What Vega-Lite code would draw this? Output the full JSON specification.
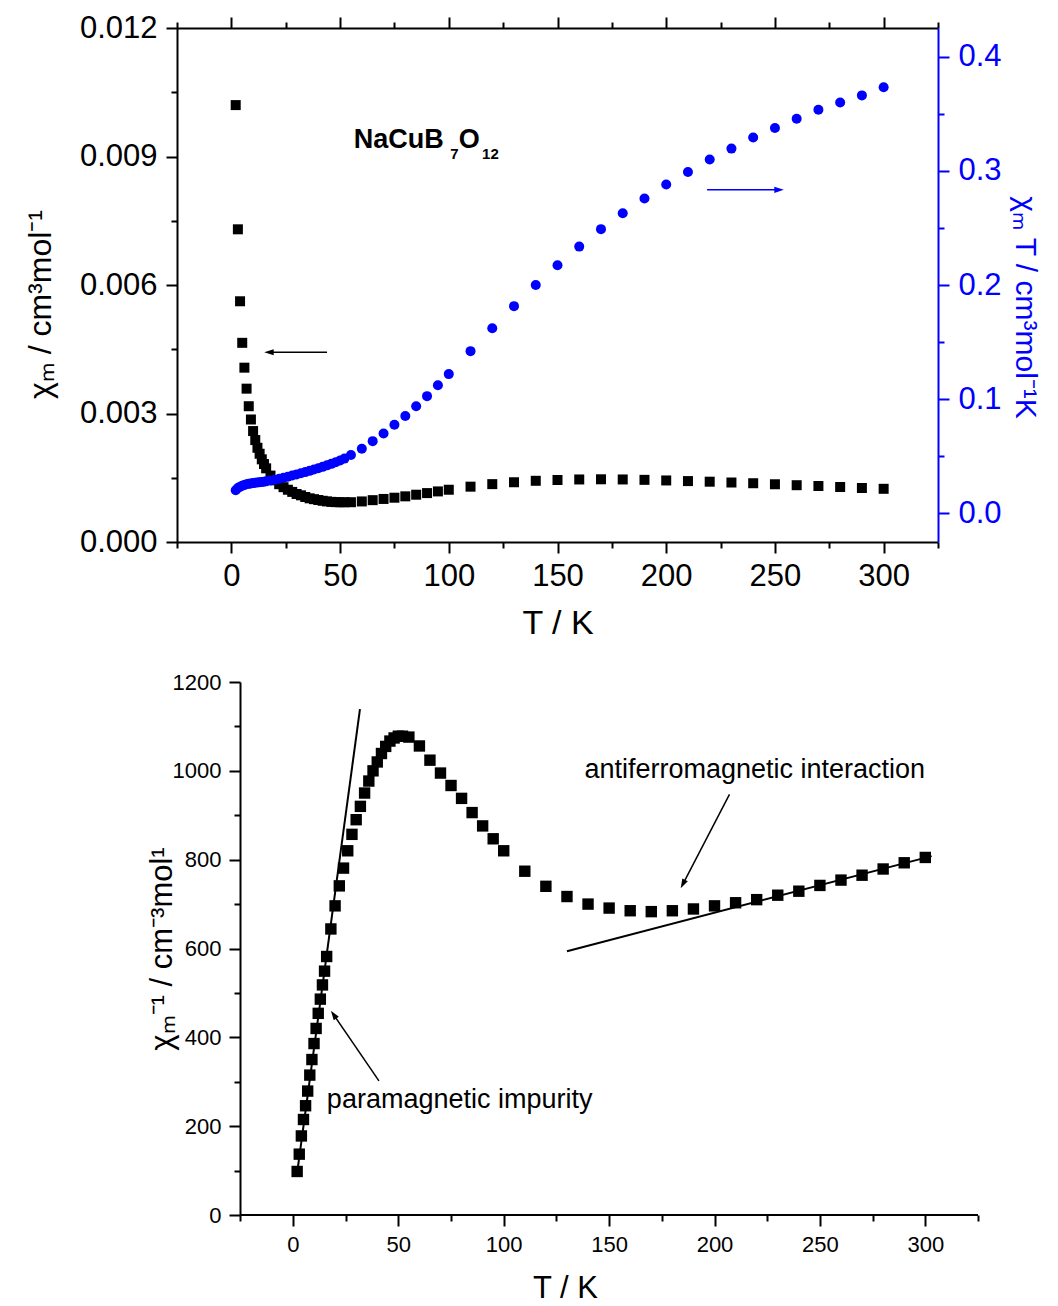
{
  "$schema": "https://vega.github.io/schema/vega-lite/v6.json",
  "background": "white",
  "padding": {"left": 24, "top": 12, "right": 12, "bottom": 0},
  "spacing": 31,
  "config": {
    "view": {"stroke": null},
    "font": "Liberation Sans",
    "axis": {"grid": false, "labelFont": "Liberation Sans", "titleFont": "Liberation Sans", "titleFontWeight": "normal", "labelColor": "black", "titleColor": "black", "domainColor": "black", "tickColor": "black", "domainWidth": 2, "tickWidth": 2, "labelFlush": false, "labelOverlap": false}
  },
  "datasets": {
    "top": [
      {"T": 2, "chi": 0.0102, "chiT": 0.0203},
      {"T": 3, "chi": 0.0073, "chiT": 0.0222},
      {"T": 4, "chi": 0.00562, "chiT": 0.0234},
      {"T": 5, "chi": 0.00465, "chiT": 0.0243},
      {"T": 6, "chi": 0.00407, "chiT": 0.025},
      {"T": 7, "chi": 0.00358, "chiT": 0.0255},
      {"T": 8, "chi": 0.00317, "chiT": 0.0259},
      {"T": 9, "chi": 0.00286, "chiT": 0.0262},
      {"T": 10, "chi": 0.00259, "chiT": 0.0266},
      {"T": 11, "chi": 0.00238, "chiT": 0.0268},
      {"T": 12, "chi": 0.0022, "chiT": 0.0271},
      {"T": 13, "chi": 0.00206, "chiT": 0.0273},
      {"T": 14, "chi": 0.00193, "chiT": 0.0276},
      {"T": 15, "chi": 0.00182, "chiT": 0.0278},
      {"T": 16, "chi": 0.00172, "chiT": 0.0281},
      {"T": 18, "chi": 0.00155, "chiT": 0.0288},
      {"T": 20, "chi": 0.00144, "chiT": 0.0295},
      {"T": 22, "chi": 0.00135, "chiT": 0.0303},
      {"T": 24, "chi": 0.00128, "chiT": 0.0312},
      {"T": 26, "chi": 0.00122, "chiT": 0.0322},
      {"T": 28, "chi": 0.00117, "chiT": 0.0332},
      {"T": 30, "chi": 0.00112, "chiT": 0.0342},
      {"T": 32, "chi": 0.00109, "chiT": 0.0352},
      {"T": 34, "chi": 0.00105, "chiT": 0.0362},
      {"T": 36, "chi": 0.00102, "chiT": 0.0373},
      {"T": 38, "chi": 0.001, "chiT": 0.0384},
      {"T": 40, "chi": 0.00098, "chiT": 0.0396},
      {"T": 42, "chi": 0.000962, "chiT": 0.0408},
      {"T": 44, "chi": 0.000948, "chiT": 0.0421},
      {"T": 46, "chi": 0.000937, "chiT": 0.0434},
      {"T": 48, "chi": 0.000931, "chiT": 0.0448},
      {"T": 50, "chi": 0.000928, "chiT": 0.0463},
      {"T": 52, "chi": 0.000928, "chiT": 0.048},
      {"T": 55, "chi": 0.000929, "chiT": 0.0511},
      {"T": 60, "chi": 0.000947, "chiT": 0.0567},
      {"T": 65, "chi": 0.000977, "chiT": 0.0633},
      {"T": 70, "chi": 0.001005, "chiT": 0.07},
      {"T": 75, "chi": 0.001034, "chiT": 0.0776},
      {"T": 80, "chi": 0.001066, "chiT": 0.0853},
      {"T": 85, "chi": 0.001104, "chiT": 0.0938},
      {"T": 90, "chi": 0.001142, "chiT": 0.1027},
      {"T": 95, "chi": 0.001181, "chiT": 0.1122},
      {"T": 100, "chi": 0.00122, "chiT": 0.122},
      {"T": 110, "chi": 0.001292, "chiT": 0.1421},
      {"T": 120, "chi": 0.001351, "chiT": 0.1622},
      {"T": 130, "chi": 0.001395, "chiT": 0.1815},
      {"T": 140, "chi": 0.001429, "chiT": 0.2},
      {"T": 150, "chi": 0.001447, "chiT": 0.2173},
      {"T": 160, "chi": 0.00146, "chiT": 0.2336},
      {"T": 170, "chi": 0.001464, "chiT": 0.2489},
      {"T": 180, "chi": 0.00146, "chiT": 0.2628},
      {"T": 190, "chi": 0.001451, "chiT": 0.2758},
      {"T": 200, "chi": 0.001437, "chiT": 0.288},
      {"T": 210, "chi": 0.001422, "chiT": 0.299},
      {"T": 220, "chi": 0.001408, "chiT": 0.3099},
      {"T": 230, "chi": 0.001389, "chiT": 0.3194},
      {"T": 240, "chi": 0.001372, "chiT": 0.3292},
      {"T": 250, "chi": 0.001348, "chiT": 0.3375},
      {"T": 260, "chi": 0.001326, "chiT": 0.3455},
      {"T": 270, "chi": 0.001307, "chiT": 0.3535},
      {"T": 280, "chi": 0.001284, "chiT": 0.3598},
      {"T": 290, "chi": 0.001261, "chiT": 0.366},
      {"T": 300, "chi": 0.001242, "chiT": 0.3731}
    ],
    "bottom": [
      {"T": 2, "inv": 98}, {"T": 3, "inv": 137}, {"T": 4, "inv": 178}, {"T": 5, "inv": 215},
      {"T": 6, "inv": 246}, {"T": 7, "inv": 279}, {"T": 8, "inv": 315}, {"T": 9, "inv": 350},
      {"T": 10, "inv": 386}, {"T": 11, "inv": 420}, {"T": 12, "inv": 454}, {"T": 13, "inv": 486},
      {"T": 14, "inv": 518}, {"T": 15, "inv": 549}, {"T": 16, "inv": 582}, {"T": 18, "inv": 644},
      {"T": 20, "inv": 696}, {"T": 22, "inv": 741}, {"T": 24, "inv": 781}, {"T": 26, "inv": 820},
      {"T": 28, "inv": 857}, {"T": 30, "inv": 890}, {"T": 32, "inv": 920}, {"T": 34, "inv": 950},
      {"T": 36, "inv": 977}, {"T": 38, "inv": 1000}, {"T": 40, "inv": 1020}, {"T": 42, "inv": 1039},
      {"T": 44, "inv": 1055}, {"T": 46, "inv": 1067}, {"T": 48, "inv": 1074}, {"T": 50, "inv": 1078},
      {"T": 52, "inv": 1078}, {"T": 55, "inv": 1076}, {"T": 60, "inv": 1056}, {"T": 65, "inv": 1024},
      {"T": 70, "inv": 995}, {"T": 75, "inv": 967}, {"T": 80, "inv": 938}, {"T": 85, "inv": 906},
      {"T": 90, "inv": 876}, {"T": 95, "inv": 847}, {"T": 100, "inv": 820}, {"T": 110, "inv": 774},
      {"T": 120, "inv": 740}, {"T": 130, "inv": 717}, {"T": 140, "inv": 700}, {"T": 150, "inv": 691},
      {"T": 160, "inv": 685}, {"T": 170, "inv": 683}, {"T": 180, "inv": 685}, {"T": 190, "inv": 689},
      {"T": 200, "inv": 696}, {"T": 210, "inv": 703}, {"T": 220, "inv": 710}, {"T": 230, "inv": 720},
      {"T": 240, "inv": 729}, {"T": 250, "inv": 742}, {"T": 260, "inv": 754}, {"T": 270, "inv": 765},
      {"T": 280, "inv": 779}, {"T": 290, "inv": 793}, {"T": 300, "inv": 805}
    ],
    "arrowK": [{"T": 44.0, "chi": 0.00443}, {"T": 17.3, "chi": 0.00443}],
    "headK": [{"T": 17.3, "chi": 0.00443}],
    "arrowB": [{"T": 218.8, "chiT": 0.2833}, {"T": 251.9, "chiT": 0.2833}],
    "headB": [{"T": 251.9, "chiT": 0.2833}],
    "formulaMain": [{"T": 56.3, "chi": 0.0092, "label": "NaCuB"}, {"T": 104.6, "chi": 0.0092, "label": "O"}],
    "formulaSub": [{"T": 100.7, "chi": 0.00893, "label": "7"}, {"T": 115.3, "chi": 0.00893, "label": "12"}],
    "cwfit": [{"T": 2, "inv": 95}, {"T": 31.8, "inv": 1139}],
    "affit": [{"T": 130, "inv": 594}, {"T": 303, "inv": 808}],
    "arrows": [
      {"id": "p", "T": 40.8, "inv": 302}, {"id": "p", "T": 19.3, "inv": 451},
      {"id": "a", "T": 207.1, "inv": 947}, {"id": "a", "T": 185, "inv": 745}
    ],
    "headP": [{"T": 19.3, "inv": 451}],
    "headA": [{"T": 185, "inv": 745}],
    "notes": [
      {"T": 138.3, "inv": 1001, "label": "antiferromagnetic interaction"},
      {"T": 16.1, "inv": 259, "label": "paramagnetic impurity"}
    ]
  },
  "vconcat": [
    {
      "width": 761,
      "height": 514,
      "resolve": {"scale": {"y": "independent"}, "axis": {"x": "independent", "y": "independent"}},
      "layer": [
        {
          "data": {"name": "top"},
          "mark": {"type": "point", "shape": "square", "filled": true, "size": 100, "color": "black", "opacity": 1, "strokeWidth": 0},
          "encoding": {
            "x": {"field": "T", "type": "quantitative", "scale": {"domain": [-25, 325], "nice": false, "zero": false},
              "axis": {"orient": "bottom", "values": [0, 50, 100, 150, 200, 250, 300], "tickSize": 11, "labelFontSize": 31, "labelPadding": 8, "title": "T / K", "titleFontSize": 34, "titlePadding": 15}},
            "y": {"field": "chi", "type": "quantitative", "scale": {"domain": [0, 0.012], "nice": false, "zero": false},
              "axis": {"orient": "left", "values": [0, 0.003, 0.006, 0.009, 0.012], "format": ".3f", "tickSize": 11, "labelFontSize": 31, "labelPadding": 9, "title": "χₘ / cm³mol⁻¹", "titleFontSize": 32, "titlePadding": 22, "titleY": 276}}
          }
        },
        {
          "data": {"name": "top"},
          "mark": {"type": "circle", "size": 100, "color": "#0000ff", "opacity": 1},
          "encoding": {
            "x": {"field": "T", "type": "quantitative",
              "axis": {"orient": "top", "values": [0, 50, 100, 150, 200, 250, 300], "tickSize": 11, "labels": false, "title": null}},
            "y": {"field": "chiT", "type": "quantitative", "scale": {"domain": [-0.025, 0.425], "nice": false, "zero": false},
              "axis": {"orient": "right", "values": [0, 0.1, 0.2, 0.3, 0.4], "format": ".1f", "tickSize": 11, "labelFontSize": 31, "labelPadding": 9, "labelColor": "#0000ff", "tickColor": "#0000ff", "domainColor": "#0000ff", "title": "χₘ T / cm³mol⁻¹K", "titleColor": "#0000ff", "titleFontSize": 30, "titlePadding": 8, "titleY": 279}}
          }
        },
        {
          "data": {"name": "arrowK"},
          "mark": {"type": "line", "color": "black", "strokeWidth": 1.5},
          "encoding": {
            "x": {"field": "T", "type": "quantitative",
              "axis": {"orient": "bottom", "values": [-25, 25, 75, 125, 175, 225, 275, 325], "tickSize": 6, "labels": false, "domain": false, "title": null}},
            "y": {"field": "chi", "type": "quantitative", "scale": {"domain": [0, 0.012], "nice": false, "zero": false},
              "axis": {"orient": "left", "values": [0.0015, 0.0045, 0.0075, 0.0105], "tickSize": 6, "labels": false, "domain": false, "title": null}}
          }
        },
        {
          "data": {"name": "arrowB"},
          "mark": {"type": "line", "color": "#0000ff", "strokeWidth": 1.5},
          "encoding": {
            "x": {"field": "T", "type": "quantitative",
              "axis": {"orient": "top", "values": [-25, 25, 75, 125, 175, 225, 275, 325], "tickSize": 6, "labels": false, "domain": false, "title": null}},
            "y": {"field": "chiT", "type": "quantitative", "scale": {"domain": [-0.025, 0.425], "nice": false, "zero": false},
              "axis": {"orient": "right", "values": [0.05, 0.15, 0.25, 0.35], "tickSize": 6, "labels": false, "domain": false, "tickColor": "#0000ff", "title": null}}
          }
        },
        {
          "data": {"name": "headK"},
          "mark": {"type": "point", "shape": "M0,-1L0.65,1L-0.65,1Z", "angle": 270, "filled": true, "size": 90, "color": "black", "opacity": 1, "strokeWidth": 0},
          "encoding": {
            "x": {"field": "T", "type": "quantitative", "axis": null},
            "y": {"field": "chi", "type": "quantitative", "scale": {"domain": [0, 0.012], "nice": false, "zero": false}, "axis": null}
          }
        },
        {
          "data": {"name": "headB"},
          "mark": {"type": "point", "shape": "M0,-1L0.65,1L-0.65,1Z", "angle": 90, "filled": true, "size": 90, "color": "#0000ff", "opacity": 1, "strokeWidth": 0},
          "encoding": {
            "x": {"field": "T", "type": "quantitative", "axis": null},
            "y": {"field": "chiT", "type": "quantitative", "scale": {"domain": [-0.025, 0.425], "nice": false, "zero": false}, "axis": null}
          }
        },
        {
          "data": {"name": "formulaMain"},
          "mark": {"type": "text", "align": "left", "baseline": "alphabetic", "fontSize": 27, "fontWeight": "bold", "font": "Liberation Sans", "color": "black"},
          "encoding": {
            "x": {"field": "T", "type": "quantitative", "axis": null},
            "y": {"field": "chi", "type": "quantitative", "scale": {"domain": [0, 0.012], "nice": false, "zero": false}, "axis": null},
            "text": {"field": "label"}
          }
        },
        {
          "data": {"name": "formulaSub"},
          "mark": {"type": "text", "align": "left", "baseline": "alphabetic", "fontSize": 15, "fontWeight": "bold", "font": "Liberation Sans", "color": "black"},
          "encoding": {
            "x": {"field": "T", "type": "quantitative", "axis": null},
            "y": {"field": "chi", "type": "quantitative", "scale": {"domain": [0, 0.012], "nice": false, "zero": false}, "axis": null},
            "text": {"field": "label"}
          }
        }
      ]
    },
    {
      "width": 801,
      "height": 533,
      "resolve": {"scale": {"y": "independent"}, "axis": {"x": "independent", "y": "independent"}},
      "layer": [
        {
          "data": {"name": "bottom"},
          "mark": {"type": "point", "shape": "square", "filled": true, "size": 130, "color": "black", "opacity": 1, "strokeWidth": 0},
          "encoding": {
            "x": {"field": "T", "type": "quantitative", "scale": {"domain": [-55, 325], "nice": false, "zero": false},
              "axis": {"orient": "bottom", "values": [0, 50, 100, 150, 200, 250, 300], "tickSize": 11, "labelFontSize": 22, "labelPadding": 8, "domain": false, "title": "T / K", "titleFontSize": 31, "titlePadding": 18, "titleX": 388}},
            "y": {"field": "inv", "type": "quantitative", "scale": {"domain": [0, 1200], "nice": false, "zero": false},
              "axis": {"orient": "left", "offset": -63, "values": [0, 200, 400, 600, 800, 1000, 1200], "format": "d", "tickSize": 11, "labelFontSize": 22, "labelPadding": 8, "title": "χₘ⁻¹ / cm⁻³mol¹", "titleFontSize": 31, "titlePadding": -6}}
          }
        },
        {
          "data": {"name": "cwfit"},
          "mark": {"type": "line", "color": "black", "strokeWidth": 2},
          "encoding": {
            "x": {"field": "T", "type": "quantitative",
              "axis": {"orient": "bottom", "values": [-25, 25, 75, 125, 175, 225, 275, 325], "tickSize": 6, "labels": false, "domain": false, "title": null}},
            "y": {"field": "inv", "type": "quantitative", "scale": {"domain": [0, 1200], "nice": false, "zero": false},
              "axis": {"orient": "left", "offset": -63, "values": [100, 300, 500, 700, 900, 1100], "tickSize": 6, "labels": false, "domain": false, "title": null}}
          }
        },
        {
          "data": {"name": "affit"},
          "mark": {"type": "line", "color": "black", "strokeWidth": 2},
          "encoding": {
            "x": {"field": "T", "type": "quantitative", "axis": null},
            "y": {"field": "inv", "type": "quantitative", "scale": {"domain": [0, 1200], "nice": false, "zero": false}, "axis": null}
          }
        },
        {
          "data": {"values": [{}]},
          "mark": {"type": "rule", "color": "black", "strokeWidth": 2},
          "encoding": {
            "x": {"datum": -25, "type": "quantitative", "axis": null},
            "x2": {"datum": 325},
            "y": {"datum": 0, "type": "quantitative", "scale": {"domain": [0, 1200], "nice": false, "zero": false}, "axis": null}
          }
        },
        {
          "data": {"name": "arrows"},
          "mark": {"type": "line", "color": "black", "strokeWidth": 1.5},
          "encoding": {
            "x": {"field": "T", "type": "quantitative", "axis": null},
            "y": {"field": "inv", "type": "quantitative", "scale": {"domain": [0, 1200], "nice": false, "zero": false}, "axis": null},
            "detail": {"field": "id"}
          }
        },
        {
          "data": {"name": "headP"},
          "mark": {"type": "point", "shape": "M0,-1L0.65,1L-0.65,1Z", "angle": 325.6, "filled": true, "size": 90, "color": "black", "opacity": 1, "strokeWidth": 0},
          "encoding": {
            "x": {"field": "T", "type": "quantitative", "axis": null},
            "y": {"field": "inv", "type": "quantitative", "scale": {"domain": [0, 1200], "nice": false, "zero": false}, "axis": null}
          }
        },
        {
          "data": {"name": "headA"},
          "mark": {"type": "point", "shape": "M0,-1L0.65,1L-0.65,1Z", "angle": 207.5, "filled": true, "size": 90, "color": "black", "opacity": 1, "strokeWidth": 0},
          "encoding": {
            "x": {"field": "T", "type": "quantitative", "axis": null},
            "y": {"field": "inv", "type": "quantitative", "scale": {"domain": [0, 1200], "nice": false, "zero": false}, "axis": null}
          }
        },
        {
          "data": {"name": "notes"},
          "mark": {"type": "text", "align": "left", "baseline": "middle", "fontSize": 27, "font": "Liberation Sans", "color": "black"},
          "encoding": {
            "x": {"field": "T", "type": "quantitative", "axis": null},
            "y": {"field": "inv", "type": "quantitative", "scale": {"domain": [0, 1200], "nice": false, "zero": false}, "axis": null},
            "text": {"field": "label"}
          }
        }
      ]
    }
  ]
}
